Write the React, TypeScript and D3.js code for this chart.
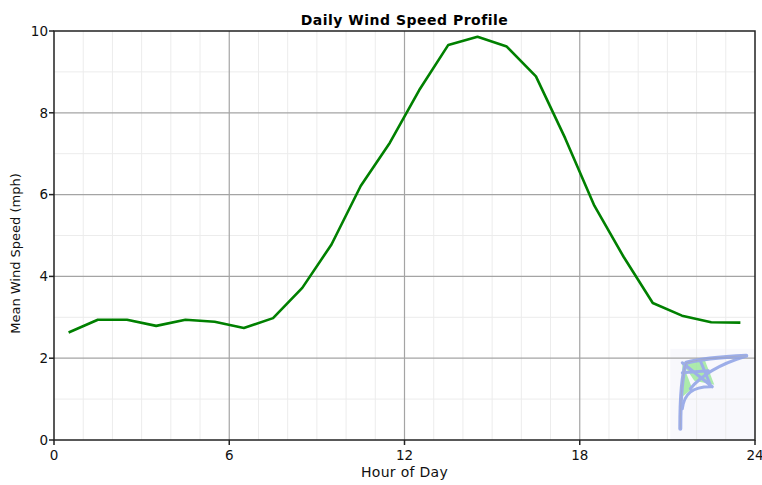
import React, { useEffect, useRef } from 'react';
import * as d3 from 'd3';

// hour of day (bin centre) and mean wind speed
const hours = [0.5, 1.5, 2.5, 3.5, 4.5, 5.5, 6.5, 7.5, 8.5, 9.5, 10.5, 11.5,
  12.5, 13.5, 14.5, 15.5, 16.5, 17.5, 18.5, 19.5, 20.5, 21.5, 22.5, 23.5];
const speeds = [2.63, 2.94, 2.94, 2.79, 2.94, 2.89, 2.74, 2.98, 3.72, 4.78, 6.21, 7.27,
  8.55, 9.66, 9.86, 9.62, 8.89, 7.38, 5.73, 4.48, 3.35, 3.04, 2.88, 2.87];
const xTicks = [0, 6, 12, 18, 24];
const yTicks = [0, 2, 4, 6, 8, 10];

export default function App() {
  const ref = useRef<SVGSVGElement>(null);

  useEffect(() => {
    const svg = d3.select(ref.current);
    svg.selectAll('*').remove();

    const margin = { top: 31, right: 7, bottom: 45, left: 54 };
    const W = 762, H = 485;
    const width = W - margin.left - margin.right;
    const height = H - margin.top - margin.bottom;
    const font = 'DejaVu Sans, Verdana, sans-serif';

    const x = d3.scaleLinear().domain([0, 24]).range([0, width]);
    const y = d3.scaleLinear().domain([0, 10]).range([height, 0]);

    svg.append('rect').attr('width', W).attr('height', H).attr('fill', '#fff');

    const g = svg.append('g').attr('transform', `translate(${margin.left},${margin.top})`);

    // watermark backdrop
    const wm = g.append('g').attr('transform', `translate(${x(21.1)},${y(2.23)})`);
    wm.append('rect').attr('x', 0).attr('y', 0)
      .attr('width', width - x(21.1)).attr('height', height - y(2.23)).attr('fill', '#f8f8fc');

    // minor grid
    g.append('g').selectAll('line').data(d3.range(1, 24).filter(d => d % 6 !== 0)).enter()
      .append('line')
      .attr('x1', d => x(d)).attr('x2', d => x(d)).attr('y1', 0).attr('y2', height)
      .attr('stroke', '#ececec').attr('stroke-width', 1);
    g.append('g').selectAll('line').data(d3.range(1, 10).filter(d => d % 2 !== 0)).enter()
      .append('line')
      .attr('y1', d => y(d)).attr('y2', d => y(d)).attr('x1', 0).attr('x2', width)
      .attr('stroke', '#ececec').attr('stroke-width', 1);

    // major grid
    g.append('g').selectAll('line').data(xTicks.slice(1, -1)).enter()
      .append('line')
      .attr('x1', d => x(d)).attr('x2', d => x(d)).attr('y1', 0).attr('y2', height)
      .attr('stroke', '#a4a4a4').attr('stroke-width', 1.2);
    g.append('g').selectAll('line').data(yTicks.slice(1, -1)).enter()
      .append('line')
      .attr('y1', d => y(d)).attr('y2', d => y(d)).attr('x1', 0).attr('x2', width)
      .attr('stroke', '#a4a4a4').attr('stroke-width', 1.2);

    // watermark logo
    const logo = g.append('g').attr('transform', `translate(${x(21.1)},${y(2.23)})`)
      .attr('opacity', 0.85);
    logo.append('path')
      .attr('d', 'M12,14 L34,10 L44,36 L24,32 Z')
      .attr('fill', '#9fe89f');
    logo.append('path')
      .attr('d', 'M12,14 L22,40 L12,48 Z')
      .attr('fill', '#9fe89f');
    logo.append('path')
      .attr('d', 'M10,80 C10,50 12,25 16,14 C30,10 55,8 76,7')
      .attr('fill', 'none').attr('stroke', '#8ea2e6').attr('stroke-width', 4)
      .attr('stroke-linecap', 'round');
    logo.append('path')
      .attr('d', 'M12,60 C14,45 22,38 40,38 M12,14 L42,38 M30,12 L40,36 M12,24 L38,22 M20,40 C30,28 48,16 74,8')
      .attr('fill', 'none').attr('stroke', '#8ea2e6').attr('stroke-width', 3)
      .attr('stroke-linecap', 'round');
    logo.append('path')
      .attr('d', 'M10,80 C10,50 12,25 16,14 C30,10 55,8 76,7')
      .attr('fill', 'none').attr('stroke', '#9a9ab0').attr('stroke-width', 1).attr('opacity', 0.6);

    // data line
    const line = d3.line<number>()
      .x((_, i) => x(hours[i]))
      .y(d => y(d));
    g.append('path')
      .datum(speeds)
      .attr('d', line)
      .attr('fill', 'none')
      .attr('stroke', '#008000')
      .attr('stroke-width', 2.6)
      .attr('stroke-linejoin', 'round');

    // frame
    g.append('rect').attr('x', 0).attr('y', 0).attr('width', width).attr('height', height)
      .attr('fill', 'none').attr('stroke', '#222').attr('stroke-width', 1.5);

    // ticks + labels
    g.append('g').selectAll('line').data(xTicks).enter().append('line')
      .attr('x1', d => x(d)).attr('x2', d => x(d)).attr('y1', height).attr('y2', height + 5)
      .attr('stroke', '#222').attr('stroke-width', 1.5);
    g.append('g').selectAll('text').data(xTicks).enter().append('text')
      .attr('x', d => x(d)).attr('y', height + 20)
      .attr('text-anchor', 'middle').attr('font-family', font).attr('font-size', 13.5)
      .attr('fill', '#111').text(d => d);

    g.append('g').selectAll('line').data(yTicks).enter().append('line')
      .attr('x1', -5).attr('x2', 0).attr('y1', d => y(d)).attr('y2', d => y(d))
      .attr('stroke', '#222').attr('stroke-width', 1.5);
    g.append('g').selectAll('text').data(yTicks).enter().append('text')
      .attr('x', -6).attr('y', d => y(d)).attr('dy', '0.35em')
      .attr('text-anchor', 'end').attr('font-family', font).attr('font-size', 13.5)
      .attr('fill', '#111').text(d => d);

    // titles
    g.append('text').attr('x', width / 2).attr('y', -6)
      .attr('text-anchor', 'middle').attr('font-family', font).attr('font-weight', 'bold')
      .attr('font-size', 14).attr('letter-spacing', 0.5)
      .attr('fill', '#000').text('Daily Wind Speed Profile');
    g.append('text').attr('x', width / 2).attr('y', height + 37)
      .attr('text-anchor', 'middle').attr('font-family', font)
      .attr('font-size', 14).attr('letter-spacing', 0.3)
      .attr('fill', '#111').text('Hour of Day');
    g.append('text').attr('transform', `translate(-34,${height / 2 + 18}) rotate(-90)`)
      .attr('text-anchor', 'middle').attr('font-family', font)
      .attr('font-size', 13).attr('fill', '#111').text('Mean Wind Speed (mph)');
  }, []);

  return (
    <div style={{ position: 'absolute', left: 0, top: 0 }}>
      <svg ref={ref} width={762} height={485} style={{ display: 'block' }} />
    </div>
  );
}
